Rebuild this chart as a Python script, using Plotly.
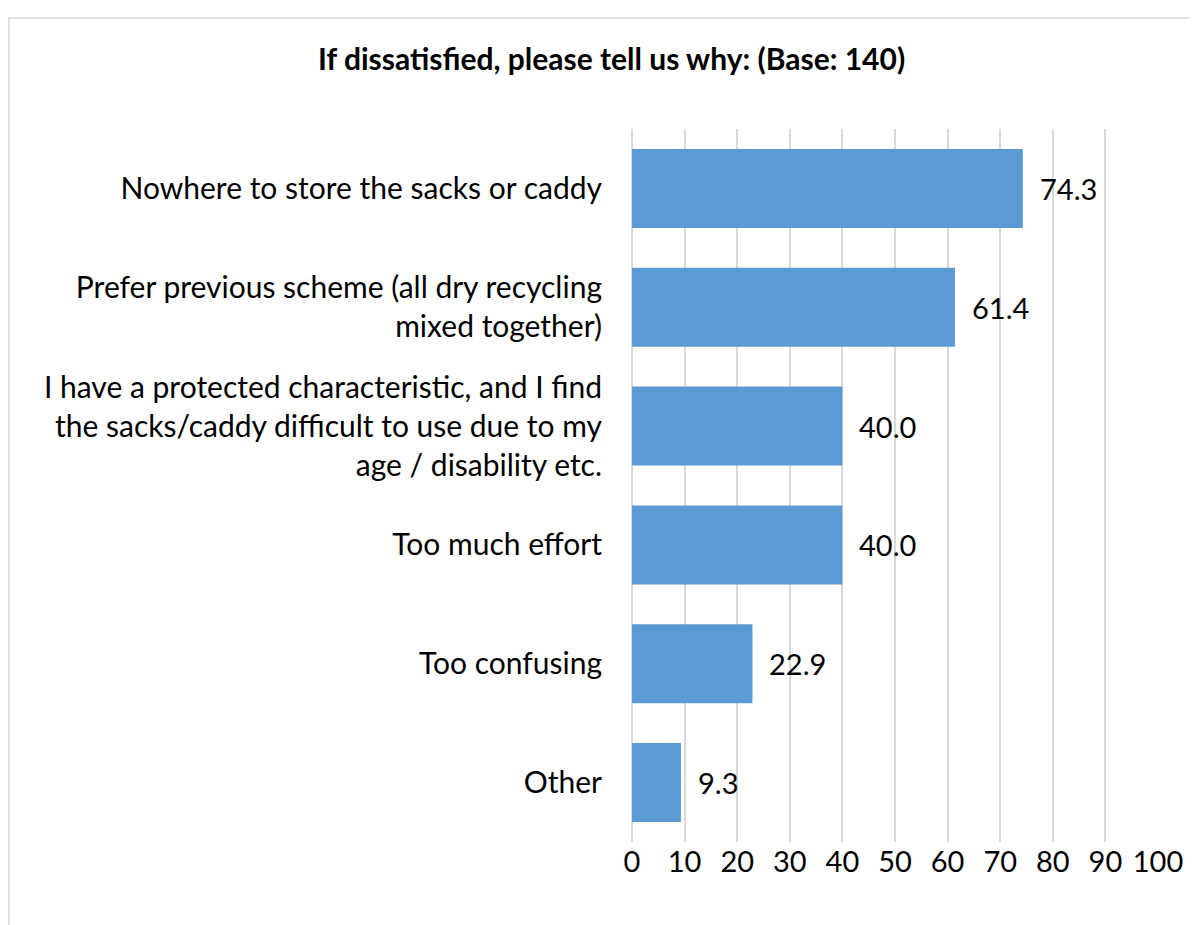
import plotly.graph_objects as go

categories = [
    "Nowhere to store the sacks or caddy",
    "Prefer previous scheme (all dry recycling<br>mixed together)",
    "I have a protected characteristic, and I find<br>the sacks/caddy difficult to use due to my<br>age / disability etc.",
    "Too much effort",
    "Too confusing",
    "Other",
]
values = [74.3, 61.4, 40.0, 40.0, 22.9, 9.3]
x_ticks = [0, 10, 20, 30, 40, 50, 60, 70, 80, 90, 100]
title_text = "If dissatisfied, please tell us why: (Base: 140)"

FONT = "Lato, Calibri, sans-serif"
OFF = 8  # page body margin
W, H = 1198 - OFF, 925 - OFF
L, T = 632 - OFF, 129 - OFF
pw, ph = 526, 713
R = W - L - pw
B = H - T - ph

fig = go.Figure()
fig.add_trace(go.Bar(
    x=values, y=categories, orientation="h",
    marker=dict(color="#5b9bd5", line=dict(width=0)),
    hoverinfo="skip",
))

for v, c in zip(values, categories):
    fig.add_annotation(
        x=v, y=c, xref="x", yref="y", text=f"{v:.1f}",
        showarrow=False, xanchor="left", yanchor="middle", xshift=15,
        font=dict(family=FONT, size=29, color="#000000"),
    )

fig.add_annotation(
    x=(611 - OFF - L) / pw, y=(T + ph - (58 - OFF)) / ph, xref="paper", yref="paper",
    text=f"<b>{title_text}</b>", showarrow=False, xanchor="center", yanchor="middle",
    font=dict(family=FONT, size=30, color="#000000"),
)

# chart border
fig.add_shape(
    type="rect", xref="paper", yref="paper",
    x0=(9 - OFF - L) / pw, x1=(W + 30 - L) / pw,
    y0=(T + ph - (H + 30)) / ph, y1=(T + ph - (18 - OFF)) / ph,
    line=dict(color="#d9d9d9", width=1.5), fillcolor="rgba(0,0,0,0)", layer="below",
)

fig.update_layout(
    width=W, height=H,
    margin=dict(l=L, r=R, t=T, b=B, pad=0),
    paper_bgcolor="white", plot_bgcolor="white",
    showlegend=False, bargap=0.335,
    font=dict(family=FONT, size=30, color="#000000"),
    xaxis=dict(
        range=[0, 100], tickvals=x_ticks, ticktext=[str(t) for t in x_ticks],
        showgrid=True, gridcolor="#d9d9d9", gridwidth=1.5,
        zeroline=True, zerolinecolor="#d9d9d9", zerolinewidth=1.5,
        showline=False, ticks="",
        tickfont=dict(family=FONT, size=29, color="#000000"),
        fixedrange=True,
    ),
    yaxis=dict(
        autorange="reversed", showgrid=False, zeroline=False, showline=False,
        ticks="", ticklabelstandoff=29,
        tickfont=dict(family=FONT, size=30, color="#000000"),
        fixedrange=True,
    ),
)

fig.write_html("out.html")
